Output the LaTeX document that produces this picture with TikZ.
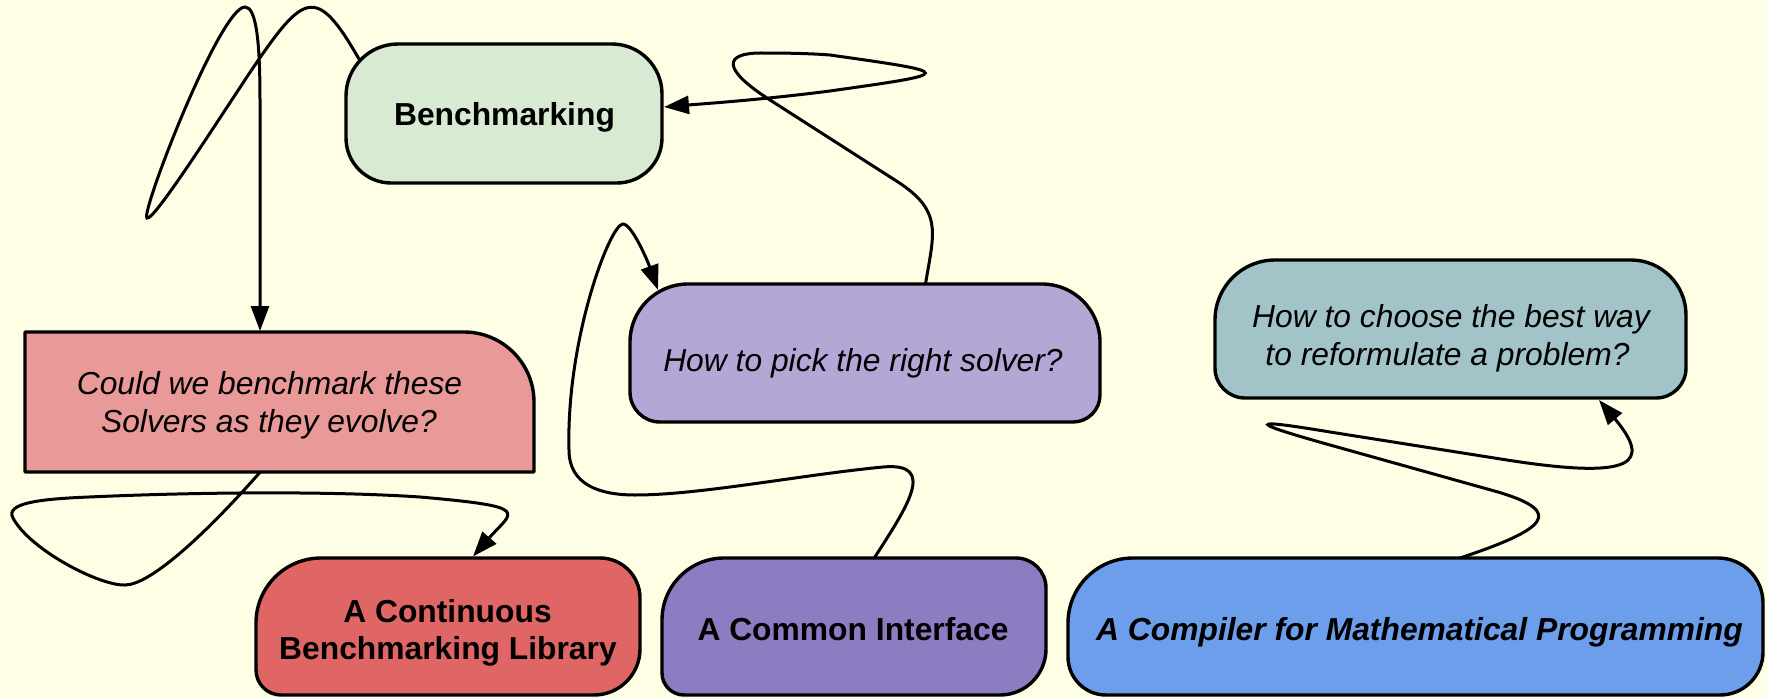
\documentclass[tikz,border=0pt]{standalone}
\usepackage{fontspec}
\setmainfont{Liberation Sans}
\usetikzlibrary{arrows.meta}
\pgfdeclarelayer{bglayer}
\pgfdeclarelayer{edgelayer}
\pgfdeclarelayer{shapelayer}
\pgfsetlayers{bglayer,edgelayer,shapelayer,main}
\definecolor{bgc}{HTML}{FEFEE4}
\definecolor{benchc}{HTML}{D9EAD3}
\definecolor{pinkc}{HTML}{EA9999}
\definecolor{redc}{HTML}{E06666}
\definecolor{lpurc}{HTML}{B4A7D6}
\definecolor{dpurc}{HTML}{8E7CC3}
\definecolor{bluec}{HTML}{6D9EEB}
\definecolor{tealc}{HTML}{A2C4C9}
% #1 node name, #2 fill, #3 r top-left, #4 r top-right, #5 r bottom-right, #6 r bottom-left
\newcommand\mkshape[6]{%
\path[boxline, fill=#2]
 ([shift={(#3,0)}]#1.north west)
 -- ([shift={(-#4,0)}]#1.north east)
 .. controls ([shift={({-0.448*#4},0)}]#1.north east) and ([shift={(0,{0.448*#4})}]#1.north east) .. ([shift={(0,#4)}]#1.north east)
 -- ([shift={(0,-#5)}]#1.south east)
 .. controls ([shift={(0,{-0.448*#5})}]#1.south east) and ([shift={({-0.448*#5},0)}]#1.south east) .. ([shift={(-#5,0)}]#1.south east)
 -- ([shift={(#6,0)}]#1.south west)
 .. controls ([shift={({0.448*#6},0)}]#1.south west) and ([shift={(0,{-0.448*#6})}]#1.south west) .. ([shift={(0,-#6)}]#1.south west)
 -- ([shift={(0,#3)}]#1.north west)
 .. controls ([shift={(0,{0.448*#3})}]#1.north west) and ([shift={({0.448*#3},0)}]#1.north west) .. ([shift={(#3,0)}]#1.north west)
 -- cycle;}
\tikzset{
  boxnode/.style={rectangle, draw=none, inner sep=0pt, outer sep=0pt},
  boxline/.style={draw=black, line width=3.4pt, line join=round},
  conn/.style={draw=black, line width=3pt, line cap=round, -{Triangle[length=25pt,width=18pt]}},
  lblb/.style={anchor=base, inner sep=0pt, font=\fontsize{31.8}{38}\selectfont\bfseries},
  lbli/.style={anchor=base, inner sep=0pt, font=\fontsize{31.8}{38}\selectfont\itshape},
  lblbi/.style={anchor=base, inner sep=0pt, font=\fontsize{31.8}{38}\selectfont\bfseries\itshape},
}
\begin{document}
\begin{tikzpicture}[x=1pt, y=-1pt]
\useasboundingbox (0,0) rectangle (1767,698);
\begin{pgfonlayer}{bglayer}
  \fill[bgc] (0,0) rectangle (1767,698);
\end{pgfonlayer}

% box nodes
\node[boxnode, minimum width=316pt, minimum height=139pt] (bench)  at (504,113.5) {};
\node[boxnode, minimum width=509pt, minimum height=140pt] (pink)   at (279.5,402) {};
\node[boxnode, minimum width=470pt, minimum height=138pt] (purple) at (865,353) {};
\node[boxnode, minimum width=471pt, minimum height=138pt] (teal)   at (1450.5,329) {};
\node[boxnode, minimum width=384pt, minimum height=137pt] (red)    at (448,626.5) {};
\node[boxnode, minimum width=384pt, minimum height=137pt] (ci)     at (854,626.5) {};
\node[boxnode, minimum width=695pt, minimum height=137pt] (blue)   at (1415.5,626.5) {};

% texts
\node[lblb]  (bench-t)  at (504.5,126) {Benchmarking};
\node[lbli]  (pink-t1)  at (269.5,394) {Could we benchmark these};
\node[lbli]  (pink-t2)  at (269,432)   {Solvers as they evolve?};
\node[lbli]  (purple-t) at (863,371)   {How to pick the right solver?};
\node[lbli]  (teal-t1)  at (1451,327)  {How to choose the best way};
\node[lbli]  (teal-t2)  at (1447.5,365) {to reformulate a problem?};
\node[lblb]  (red-t1)   at (447.5,622) {A Continuous};
\node[lblb]  (red-t2)   at (448,659)   {Benchmarking Library};
\node[lblb]  (ci-t)     at (853,640)   {A Common Interface};
\node[lblbi] (blue-t)   at (1419.5,640) {A Compiler for Mathematical Programming};

\begin{pgfonlayer}{shapelayer}
  \mkshape{bench}{benchc}{52}{50}{45}{45}
  \mkshape{pink}{pinkc}{0}{70}{0}{0}
  \mkshape{purple}{lpurc}{58}{58}{27}{30}
  \mkshape{teal}{tealc}{60}{55}{30}{30}
  \mkshape{red}{redc}{65}{40}{46}{25}
  \mkshape{ci}{dpurc}{62}{30}{46}{22}
  \mkshape{blue}{bluec}{65}{45}{43}{38}
\end{pgfonlayer}

\begin{pgfonlayer}{edgelayer}
  % Benchmarking -> Could we benchmark ...
  \draw[conn] ([shift={(18,24)}]bench.north west)
    .. controls (318,-15) and (306,-9) .. (257,62)
    .. controls (227,106) and (154,222) .. (147,218)
    .. controls (140,214) and (220,7) .. (245,7)
    .. controls (256,7) and (260,40) .. (260,100)
    -- ([shift={(235,-1)}]pink.north west);
  % How to pick -> Benchmarking
  \draw[conn] ([shift={(295,3)}]purple.north west)
    .. controls (933.5,234) and (944,212) .. (898,182)
    -- (770,100)
    .. controls (720,68) and (725,53) .. (761,53)
    .. controls (790,53) and (810,53.5) .. (830,55)
    .. controls (957,73) and (957,73) .. (830,91)
    .. controls (760,100) and (700,104) .. ([shift={(2,63)}]bench.north east);
  % A Common Interface -> How to pick
  \draw[conn] ([shift={(211,2)}]ci.north west)
    .. controls (907,507) and (938,462) .. (883,467)
    .. controls (800,475) and (700,495) .. (635,495)
    .. controls (600,495) and (569,485) .. (569,450)
    .. controls (566,340) and (610,224) .. (623,224)
    .. controls (632,224) and (648,262) .. ([shift={(28,6)}]purple.north west);
  % Compiler -> How to choose
  \draw[conn] ([shift={(389,1)}]blue.north west)
    .. controls (1548,529) and (1565,512) .. (1498,492)
    -- (1330,445)
    .. controls (1248,422) and (1246,418) .. (1330,432)
    -- (1507,460)
    .. controls (1635,480) and (1652,463) .. ([shift={(384,2)}]teal.south west);
  % Could we benchmark -> A Continuous Benchmarking Library
  \draw[conn] ([shift={(237,-2)}]pink.south west)
    .. controls (205,535) and (150,585) .. (125,585)
    .. controls (100,586) and (30,550) .. (13,518)
    .. controls (5,503) and (40,499) .. (89,497)
    .. controls (200,492) and (330,491) .. (420,497)
    .. controls (534.5,507) and (512.6,511) .. ([shift={(217,-1.5)}]red.north west);
\end{pgfonlayer}
\end{tikzpicture}
\end{document}
